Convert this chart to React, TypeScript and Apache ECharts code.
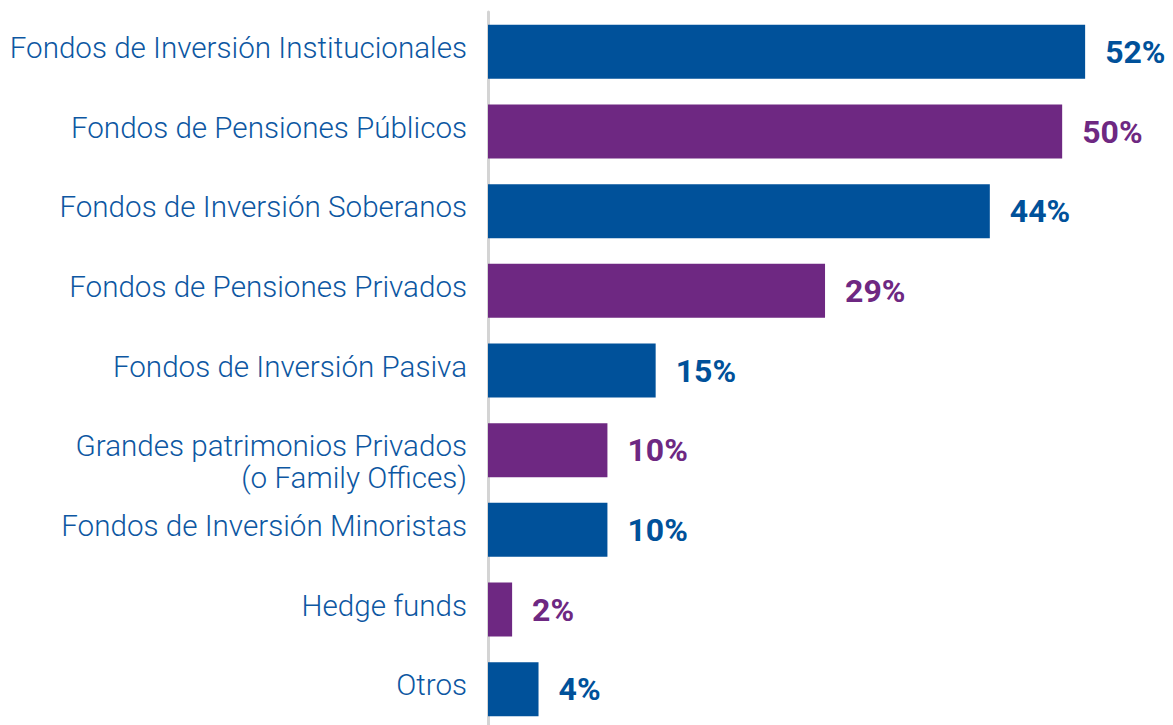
import React, { useEffect, useRef } from "react";
import * as echarts from "echarts";

const categories = [
  "Fondos de Inversión Institucionales",
  "Fondos de Pensiones Públicos",
  "Fondos de Inversión Soberanos",
  "Fondos de Pensiones Privados",
  "Fondos de Inversión Pasiva",
  "Grandes patrimonios Privados\n(o Family Offices)",
  "Fondos de Inversión Minoristas",
  "Hedge funds",
  "Otros",
];
const values = [52, 50, 43.7, 29.35, 14.6, 10.4, 10.4, 2.1, 4.4];
const valueLabels = ["52%", "50%", "44%", "29%", "15%", "10%", "10%", "2%", "4%"];
const BLUE = "#00519A";
const PURPLE = "#6E2882";
const barColors = [BLUE, PURPLE, BLUE, PURPLE, BLUE, PURPLE, BLUE, PURPLE, BLUE];

export default function App() {
  const ref = useRef<HTMLDivElement>(null);
  useEffect(() => {
    if (!ref.current) return;
    const chart = echarts.init(ref.current, undefined, { renderer: "svg" });
    chart.setOption({
      animation: false,
      grid: { left: 488, width: 689, top: 12, height: 717, containLabel: false },
      xAxis: { type: "value", min: 0, max: 60, show: false },
      yAxis: {
        type: "category",
        inverse: true,
        data: categories,
        axisLine: { show: true, lineStyle: { color: "#d4d4d4", width: 3 } },
        axisTick: { show: false },
        axisLabel: {
          margin: 21,
          color: "#0D57A2",
          fontFamily: "Roboto",
          fontWeight: 300,
          fontSize: 29.6,
          lineHeight: 32,
          align: "right",
          formatter: (v: string) => {
            const lines = v.split("\n").map((l) => `{a|${l}}`);
            if (lines.length > 1) lines.unshift("{a| }");
            return lines.join("\n");
          },
          rich: {
            a: {
              color: "#0D57A2",
              fontFamily: "Roboto",
              fontWeight: 300,
              fontSize: 29.6,
              lineHeight: 32,
              padding: [0, 0, 8, 0],
            },
          },
        },
      },
      series: [
        {
          type: "bar",
          barWidth: 54,
          data: values.map((v, i) => ({
            value: v,
            itemStyle: { color: barColors[i] },
            label: { color: barColors[i] },
          })),
          label: {
            show: true,
            position: "right",
            distance: 20,
            fontFamily: "Roboto",
            fontWeight: "bold",
            fontSize: 32,
            formatter: (p: any) => valueLabels[p.dataIndex],
          },
        },
      ],
    });
    return () => chart.dispose();
  }, []);
  return (
    <div
      ref={ref}
      style={{ position: "fixed", left: 0, top: 0, width: 1180, height: 740, background: "#fff" }}
    />
  );
}
